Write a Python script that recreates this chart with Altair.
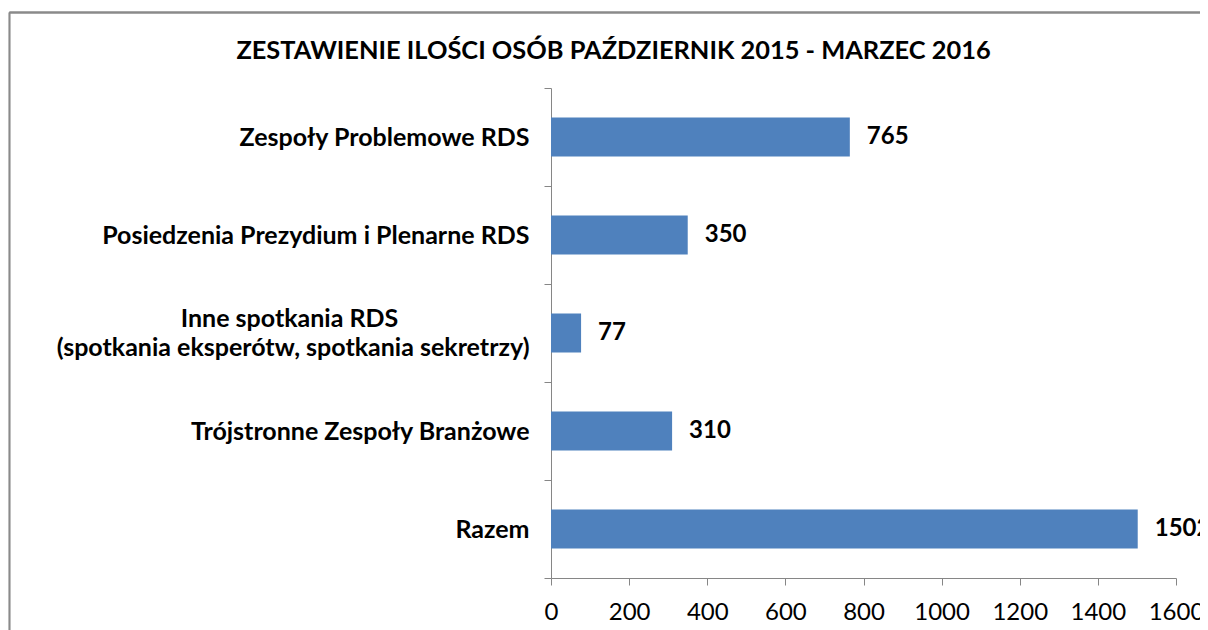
import altair as alt
import pandas as pd

categories = [
    "Zespoły Problemowe RDS",
    "Posiedzenia Prezydium i Plenarne RDS",
    "Inne spotkania RDS|(spotkania eksperótw, spotkania sekretrzy)",
    "Trójstronne Zespoły Branżowe",
    "Razem",
]
values = [765, 350, 77, 310, 1502]
x_ticks = [0, 200, 400, 600, 800, 1000, 1200, 1400, 1600]
title_text = "ZESTAWIENIE ILOŚCI OSÓB PAŹDZIERNIK 2015 - MARZEC 2016"

df = pd.DataFrame({"kat": categories, "ile": values})

FONT = "Lato"
AX = "#868686"
BAR = "#4F81BD"
PAD = "\u2003" * 7 + "\u200b"  # em spaces (kept by a zero-width char) to centre line 1

label_expr = (
    "isString(datum.label) && indexof(datum.label, '|') > 0 ? "
    "[split(datum.label, '|')[0] + '" + PAD + "', split(datum.label, '|')[1]] : datum.label"
)
multi_test = "isString(datum.value) && indexof(datum.value, '|') > 0"

y_enc = alt.Y(
    "kat:N",
    sort=None,
    title=None,
    scale=alt.Scale(paddingInner=0, paddingOuter=0),
    axis=alt.Axis(
        tickBand="extent",
        tickSize=7,
        tickColor=AX,
        domainColor=AX,
        labelFont=FONT,
        labelFontSize=25,
        labelFontWeight="bold",
        labelColor="black",
        labelLimit=800,
        labelLineHeight=29,
        labelPadding=15,
        labelAlign="right",
        labelExpr=label_expr,
        labelBaseline={"condition": {"test": multi_test, "value": "line-bottom"}, "value": "middle"},
    ),
)

x_enc = alt.X(
    "ile:Q",
    title=None,
    scale=alt.Scale(domain=[0, 1600], nice=False),
    axis=alt.Axis(
        values=x_ticks,
        format="d",
        grid=False,
        tickSize=7,
        tickColor=AX,
        domainColor=AX,
        labelFont=FONT,
        labelFontSize=24,
        labelColor="black",
        labelPadding=15,
        labelOverlap=False,
        labelFlush=False,
    ),
)

base = alt.Chart(df)

bars = base.mark_bar(color=BAR, height=alt.RelativeBandSize(0.4)).encode(x=x_enc, y=y_enc)

labels = base.mark_text(
    align="left", baseline="middle", dx=17, font=FONT, fontSize=24, fontWeight="bold", color="black"
).encode(x="ile:Q", y=alt.Y("kat:N", sort=None), text="ile:Q")

frame_left = base.mark_rule(color="#8a8a8a", strokeWidth=1.3).encode(
    x=alt.value(-541.5), y=alt.value(-75.5), y2=alt.value(600)
)
frame_top = base.mark_rule(color="#8a8a8a", strokeWidth=1.3).encode(
    x=alt.value(-541.5), x2=alt.value(700), y=alt.value(-75.5)
)

chart = (
    alt.layer(bars, labels, frame_left, frame_top)
    .properties(
        width=625,
        height=490,
        title=alt.TitleParams(
            title_text,
            font=FONT,
            fontSize=25.4,
            fontWeight="bold",
            color="black",
            anchor="middle",
            frame="group",
            baseline="alphabetic",
            dx=-250,
            offset=-73,
        ),
        autosize=alt.AutoSizeParams(type="none"),
        padding={"left": 543, "top": 80, "right": 24, "bottom": 52},
    )
    .configure_view(stroke=None)
)

chart.save("out.html", embed_options={"renderer": "svg", "actions": False})
